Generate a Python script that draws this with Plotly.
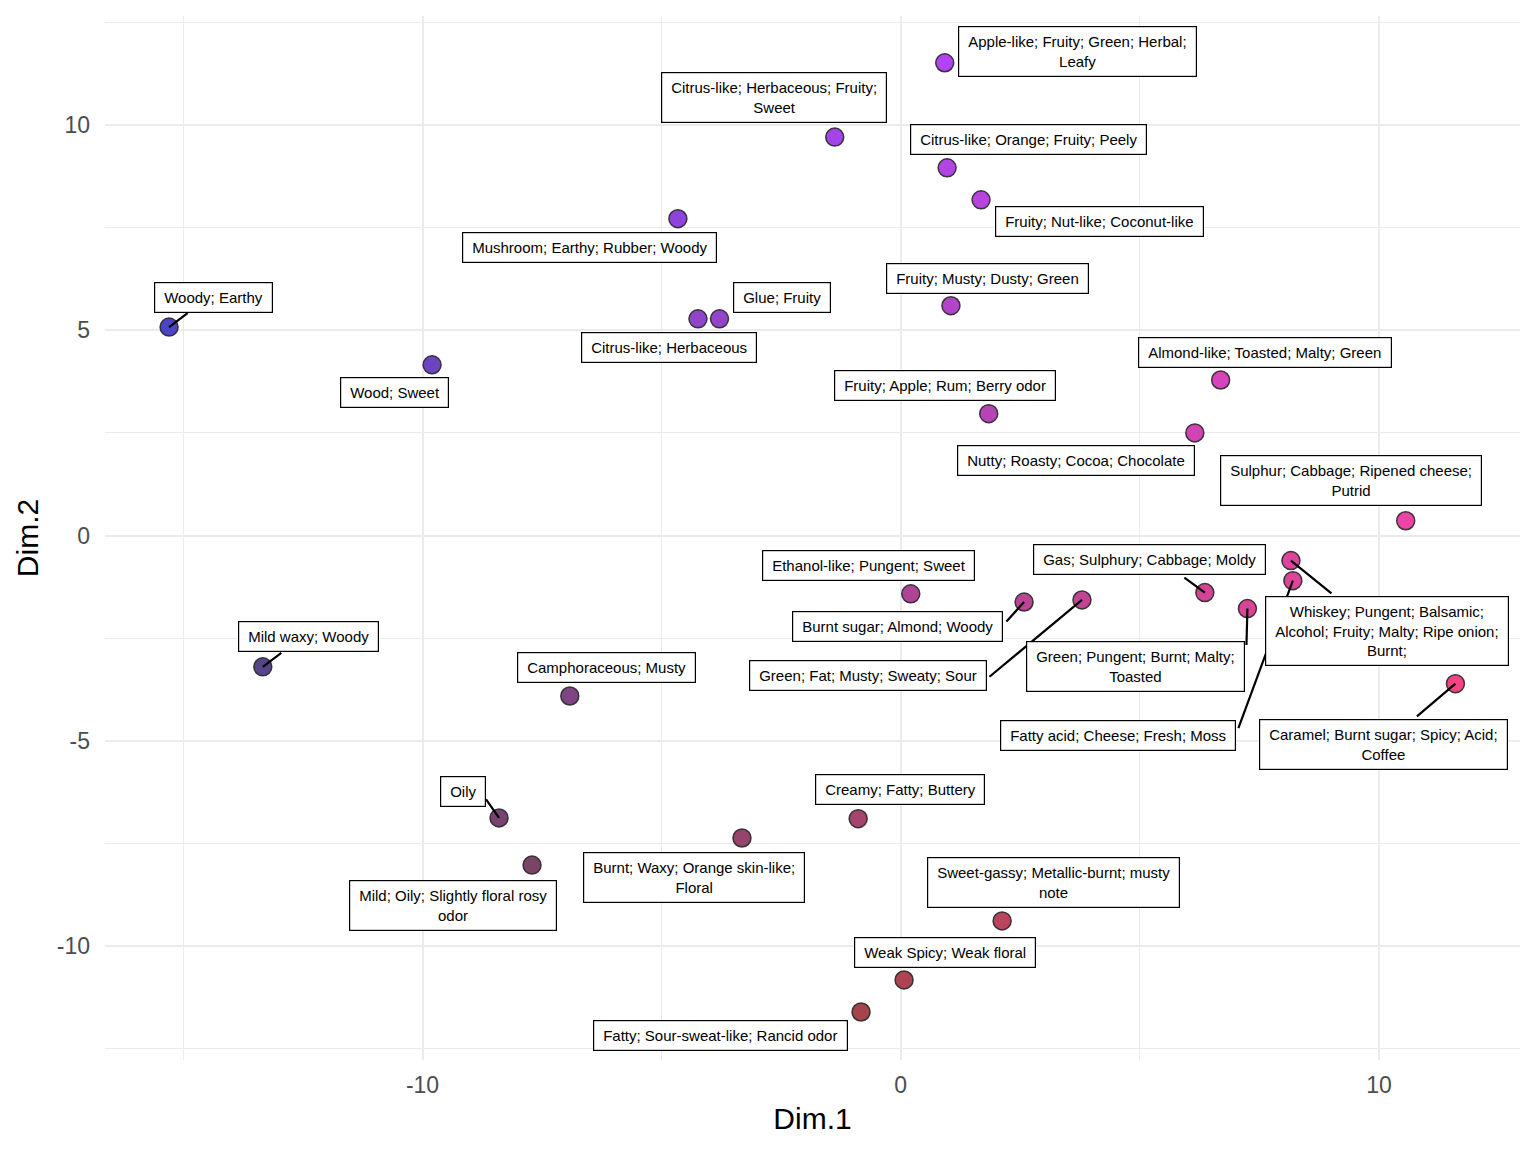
import plotly.graph_objects as go

# ---------------- data ----------------
dim1 = [0.92, -1.38, 0.97, 1.68, -4.66, -15.30, -4.24, -3.79, 1.05, -9.80,
        6.69, 1.84, 6.15, 10.56, 8.16, 8.20, 6.36, 7.25, 0.21, 2.58,
        3.79, -13.34, -6.92, 11.60, -8.40, -7.71, -3.32, -0.89, 2.12, 0.07,
        -0.83]
dim2 = [11.52, 9.71, 8.96, 8.18, 7.72, 5.08, 5.28, 5.28, 5.60, 4.16,
        3.79, 2.97, 2.50, 0.36, -0.61, -1.10, -1.39, -1.78, -1.42, -1.62,
        -1.57, -3.20, -3.91, -3.61, -6.88, -8.03, -7.37, -6.90, -9.39, -10.83,
        -11.61]
odors = [
    "Apple-like; Fruity; Green; Herbal;<br>Leafy",
    "Citrus-like; Herbaceous; Fruity;<br>Sweet",
    "Citrus-like; Orange; Fruity; Peely",
    "Fruity; Nut-like; Coconut-like",
    "Mushroom; Earthy; Rubber; Woody",
    "Woody; Earthy",
    "Citrus-like; Herbaceous",
    "Glue; Fruity",
    "Fruity; Musty; Dusty; Green",
    "Wood; Sweet",
    "Almond-like; Toasted; Malty; Green",
    "Fruity; Apple; Rum; Berry odor",
    "Nutty; Roasty; Cocoa; Chocolate",
    "Sulphur; Cabbage; Ripened cheese;<br>Putrid",
    "Whiskey; Pungent; Balsamic;<br>Alcohol; Fruity; Malty; Ripe onion;<br>Burnt;",
    "Fatty acid; Cheese; Fresh; Moss",
    "Gas; Sulphury; Cabbage; Moldy",
    "Green; Pungent; Burnt; Malty;<br>Toasted",
    "Ethanol-like; Pungent; Sweet",
    "Burnt sugar; Almond; Woody",
    "Green; Fat; Musty; Sweaty; Sour",
    "Mild waxy; Woody",
    "Camphoraceous; Musty",
    "Caramel; Burnt sugar; Spicy; Acid;<br>Coffee",
    "Oily",
    "Mild; Oily; Slightly floral rosy<br>odor",
    "Burnt; Waxy; Orange skin-like;<br>Floral",
    "Creamy; Fatty; Buttery",
    "Sweet-gassy; Metallic-burnt; musty<br>note",
    "Weak Spicy; Weak floral",
    "Fatty; Sour-sweat-like; Rancid odor",
]
x_ticks = [-10, 0, 10]
y_ticks = [-10, -5, 0, 5, 10]

# ---------------- layout helpers (pixel offsets of label boxes / leader lines) ----------------
label_offsets = [(133, -11), (-61, -40), (81, -28), (118, 22), (-88, 29), (44, -30),
                 (-29, 29), (63, -21), (37, -27), (-38, 28), (44, -28), (-44, -28),
                 (-119, 28), (-55, -40), (96, 70), (-175, 155), (-55, -33), (-112, 58),
                 (-42, -28), (-127, 24), (-214, 76), (46, -30), (37, -29), (-72, 61),
                 (-36, -26), (-79, 40), (-48, 40), (42, -29), (51, -38), (41, -27),
                 (-141, 24)]
segment_ends = {5: (20, -15), 14: (42, 34), 15: (-55, 149), 16: (-22, -16),
                17: (-1, 38), 19: (-19, 21), 20: (-94, 78), 21: (20, -15),
                23: (-40, 34), 24: (-14, -20)}

# colour mapped from the two dimensions (red ~ Dim.1, blue ~ Dim.2)
xmin, xmax = min(dim1), max(dim1)
ymin, ymax = min(dim2), max(dim2)
colors = []
for xv, yv in zip(dim1, dim2):
    r = 75 + 170 * (xv - xmin) / (xmax - xmin)
    b = 76 + 170 * (yv - ymin) / (ymax - ymin)
    colors.append(f"rgb({int(r)},68,{int(b)})")

fig = go.Figure()
fig.add_trace(go.Scatter(
    x=dim1, y=dim2, mode="markers",
    marker=dict(size=18, color=colors, line=dict(color="rgba(40,40,40,0.9)", width=1.5)),
    hoverinfo="skip", showlegend=False))

annotations = []
# leader segments first (beneath label boxes)
for i, (sx, sy) in segment_ends.items():
    annotations.append(dict(x=dim1[i], y=dim2[i], xref="x", yref="y", text="",
                            showarrow=True, arrowhead=0, arrowwidth=2.2,
                            arrowcolor="black", ax=sx, ay=sy, axref="pixel",
                            ayref="pixel", standoff=0, startstandoff=0))
PAD = "\u2009"
for i, txt in enumerate(odors):
    dx, dy = label_offsets[i]
    lines = txt.split("<br>")
    padded = "<br>".join(PAD + ln + PAD for ln in lines)
    annotations.append(dict(x=dim1[i], y=dim2[i], xref="x", yref="y", text=padded,
                            showarrow=False, xshift=dx, yshift=-dy,
                            xanchor="center", yanchor="middle",
                            font=dict(family="Liberation Sans, Arial", size=15, color="black"),
                            bgcolor="white", bordercolor="black", borderwidth=1.2,
                            borderpad=6))

fig.update_layout(
    width=1536, height=1152,
    margin=dict(l=105, r=16, t=16, b=92),
    plot_bgcolor="white", paper_bgcolor="white",
    font=dict(family="Liberation Sans, Arial", color="#4D4D4D"),
    annotations=annotations,
    xaxis=dict(range=[-16.64, 12.95], tickvals=x_ticks, ticktext=[str(v) for v in x_ticks],
               showgrid=True, gridcolor="#EBEBEB", gridwidth=2.2, zeroline=False,
               showline=False, ticks="", tickfont=dict(size=23, color="#4D4D4D"),
               ticklabelstandoff=9,
               minor=dict(tickvals=[-15, -5, 5], showgrid=True, gridcolor="#EBEBEB", gridwidth=1.2),
               title=dict(text="Dim.1", font=dict(size=30, color="black"), standoff=10)),
    yaxis=dict(range=[-12.78, 12.66], tickvals=y_ticks, ticktext=[str(v) for v in y_ticks],
               showgrid=True, gridcolor="#EBEBEB", gridwidth=2.2, zeroline=False,
               showline=False, ticks="", tickfont=dict(size=23, color="#4D4D4D"),
               ticklabelstandoff=14,
               minor=dict(tickvals=[-12.5, -7.5, -2.5, 2.5, 7.5, 12.5], showgrid=True,
                          gridcolor="#EBEBEB", gridwidth=1.2),
               title=dict(text="Dim.2", font=dict(size=30, color="black"), standoff=9)),
)

fig.write_html("out.html")
